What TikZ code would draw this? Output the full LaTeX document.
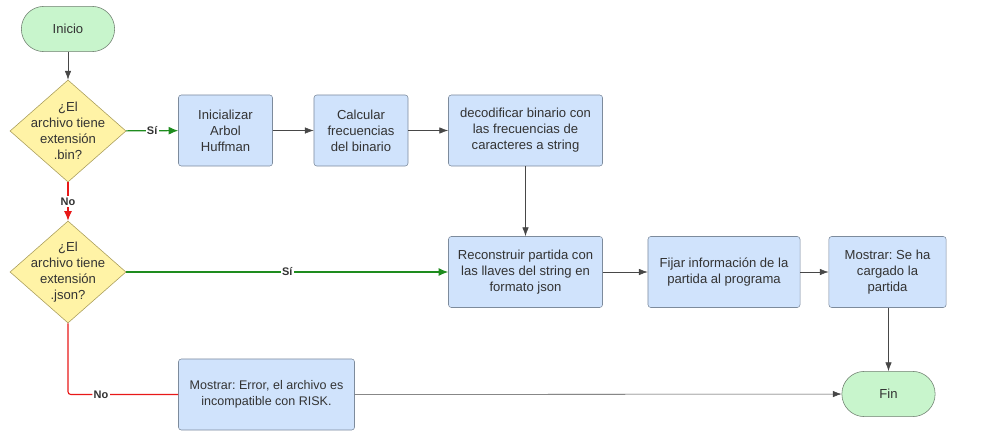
\documentclass[tikz,border=0pt]{standalone}
\usepackage{fontspec}
\setmainfont{Liberation Sans}
\usetikzlibrary{shapes.geometric,arrows.meta}
\frenchspacing

\definecolor{cajaAzul}{HTML}{D0E3FC}
\definecolor{bordeAzul}{HTML}{7D8B9C}
\definecolor{cajaVerde}{HTML}{C8F5CC}
\definecolor{bordeVerde}{HTML}{6F7F70}
\definecolor{cajaAmarilla}{HTML}{FFF3A6}
\definecolor{bordeAmarillo}{HTML}{A89C5A}
\definecolor{lineaVerde}{HTML}{1E8C1E}
\definecolor{lineaRoja}{HTML}{E81818}
\definecolor{texto}{HTML}{333333}

\begin{document}
\begin{tikzpicture}[x=0.025cm,y=-0.025cm,
        font=\fontsize{9.3}{11.4}\selectfont, text=texto,
        caja/.style={draw=bordeAzul, fill=cajaAzul, rounded corners=2pt, align=center,
            minimum height=1.775cm, inner sep=2pt},
        terminal/.style={draw=bordeVerde, fill=cajaVerde, rounded corners=0.56cm,
            minimum width=2.33cm, minimum height=1.13cm},
        decision/.style={draw=bordeAmarillo, fill=cajaAmarilla, diamond, aspect=1.137,
            minimum width=2.9cm, minimum height=2.55cm, inner sep=-0.3cm, align=center},
        flecha/.style={draw=texto!90, -{Latex[length=2.2mm,width=1.6mm]}},
        si/.style={draw=lineaVerde, thick, -{Latex[length=2.4mm,width=2mm]}},
        no/.style={draw=lineaRoja, thick},
        etq/.style={fill=white, inner sep=1pt, font=\fontsize{7.8}{9}\selectfont\bfseries}]
    \useasboundingbox (0,0) rectangle (984,434);

    % nodos
    \node[terminal] (ini) at (68,29) {Inicio};
    \node[decision] (bin) at (68,131) {¿El\\archivo tiene\\extensión\\.bin?};
    \node[decision] (json) at (68,272) {¿El\\archivo tiene\\extensión\\.json?};
    \node[caja, minimum width=2.35cm] (huff) at (225.5,130.5) {Inicializar\\Arbol\\Huffman};
    \node[caja, minimum width=2.35cm] (frec) at (361,130.5) {Calcular\\frecuencias\\del binario};
    \node[caja, minimum width=3.85cm] (deco) at (525.5,130.5) {decodificar binario con\\las frecuencias de\\caracteres a string};
    \node[caja, minimum width=3.85cm] (recon) at (525.5,272) {Reconstruir partida con\\las llaves del string en\\formato json};
    \node[caja, minimum width=3.8cm] (fijar) at (724,272) {Fijar información de la\\partida al programa};
    \node[caja, minimum width=2.93cm] (cargado) at (887.5,272) {Mostrar: Se ha\\cargado la\\partida};
    \node[caja, minimum width=4.4cm, font=\fontsize{8.9}{11.4}\selectfont] (error) at (266.5,394.5) {Mostrar: Error, el archivo es\\incompatible con RISK.};
    \node[terminal] (fin) at (888.5,394) {Fin};

    % conexiones
    \draw[flecha] (ini) -- (bin);
    \draw[si] (bin) -- node[etq, text=texto]{Sí} (huff);
    \draw[flecha] (huff) -- (frec);
    \draw[flecha] (frec) -- (deco);
    \draw[flecha] (deco) -- (recon);
    \draw[no, -{Latex[length=2.4mm,width=2mm]}] (bin) -- node[etq]{No} (json);
    \draw[si] (json) -- node[etq]{Sí} (recon);
    \draw[flecha] (recon) -- (fijar);
    \draw[flecha] (fijar) -- (cargado);
    \draw[flecha] (cargado.south -| fin.north) -- (fin.north);
    \draw[no, rounded corners=2pt] (json.south) |- node[etq, pos=0.65]{No} (error.west);
    \draw[flecha] (error) -- (fin);
\end{tikzpicture}
\end{document}
